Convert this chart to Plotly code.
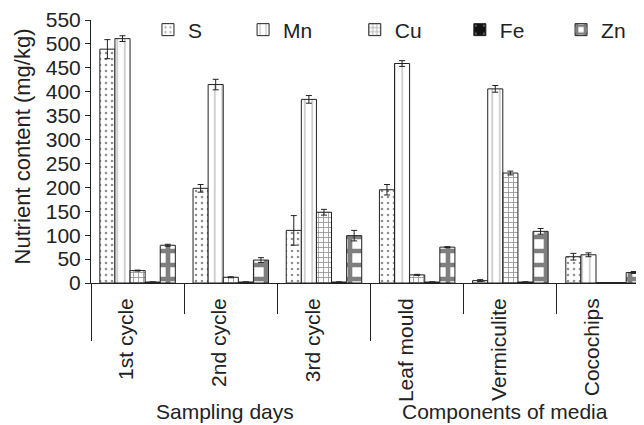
import plotly.graph_objects as go

categories = ["1st cycle", "2nd cycle", "3rd cycle", "Leaf mould", "Vermiculite", "Cocochips"]
group_names = ["Sampling days", "Components of media"]
group_members = [[0, 1, 2], [3, 4, 5]]
y_title = "Nutrient content (mg/kg)"

S = [489, 198, 110, 195, 5, 55]
S_err = [20, 8, 31, 11, 2, 7]
Mn = [511, 415, 384, 459, 406, 59]
Mn_err = [6, 11, 8, 6, 7, 4]
Cu = [26, 12, 148, 17, 230, 1]
Cu_err = [1, 1, 6, 1, 4, 0]
Fe = [2, 2, 2, 2, 2, 1]
Fe_err = [0, 0, 0, 0, 0, 0]
Zn = [79, 48, 99, 75, 108, 22]
Zn_err = [2, 5, 11, 1, 6, 2]
y_ticks = list(range(0, 551, 50))

series = [
    ("S", S, S_err, dict(shape=".", fgcolor="#222", bgcolor="white", size=6, solidity=0.15)),
    ("Mn", Mn, Mn_err, dict(shape="|", fgcolor="#333", bgcolor="white", size=7.5, solidity=0.12)),
    ("Cu", Cu, Cu_err, dict(shape="+", fgcolor="#222", bgcolor="white", size=5, solidity=0.3)),
    ("Fe", Fe, Fe_err, dict(shape=".", fgcolor="white", bgcolor="#111", size=12, solidity=0.04)),
    ("Zn", Zn, Zn_err, dict(shape="+", fgcolor="#000", bgcolor="white", size=14, solidity=0.55)),
]
legend_x = [0.103, 0.275, 0.477, 0.667, 0.850]

FONT = "Liberation Sans, Arial, sans-serif"
idx = list(range(len(categories)))

fig = go.Figure()
for k, (name, vals, errs, pat) in enumerate(series):
    fig.add_trace(go.Bar(
        name=name, x=idx, y=vals,
        legend="legend" if k == 0 else f"legend{k + 1}",
        marker=dict(color="white", pattern=pat, line=dict(color="#222", width=1)),
        error_y=dict(type="data", array=errs, visible=True, color="#222", thickness=1, width=3),
    ))

# invisible carriers so the overlay axes (group dividers, category labels) are drawn
for ax in ["x2", "x3"]:
    fig.add_trace(go.Scatter(x=idx, y=[None] * len(idx), xaxis=ax, yaxis="y",
                             mode="markers", showlegend=False, hoverinfo="skip"))

first_members = [g[0] for g in group_members]
short_b = [i + 0.5 for i in idx[:-1] if (i + 1) not in first_members]
long_b = [g[0] - 0.5 for g in group_members] + [group_members[-1][-1] + 0.5]
xr = [-0.5, 5.434]

legends = {}
for k, lx in enumerate(legend_x):
    key = "legend" if k == 0 else f"legend{k + 1}"
    legends[key] = dict(x=lx, y=0.962, xanchor="left", yanchor="middle",
                        font=dict(size=21), bgcolor="rgba(0,0,0,0)", borderwidth=0)

fig.update_layout(
    width=636, height=417,
    margin=dict(l=83, r=0, t=9, b=142),
    paper_bgcolor="white", plot_bgcolor="white",
    font=dict(family=FONT, size=21, color="#222"),
    barmode="group", bargap=0.19, bargroupgap=0,
    showlegend=True,
    **legends,
    xaxis=dict(range=xr, showline=True, linecolor="#222", linewidth=1,
               tickmode="array", tickvals=short_b, ticks="outside", ticklen=30,
               tickcolor="#222", showticklabels=False, showgrid=False, zeroline=False),
    xaxis2=dict(range=xr, overlaying="x", anchor="y", side="bottom",
                tickmode="array", tickvals=long_b, ticks="outside", ticklen=57,
                tickcolor="#222", showticklabels=False, showgrid=False, zeroline=False,
                showline=False),
    xaxis3=dict(range=xr, overlaying="x", anchor="y", side="bottom",
                tickmode="array", tickvals=[i - 0.12 for i in idx], ticktext=categories,
                tickangle=-90, ticks="", ticklabelstandoff=10,
                showgrid=False, zeroline=False, showline=False,
                tickfont=dict(size=21)),
    yaxis=dict(range=[0, 550], tickmode="array", tickvals=y_ticks,
               showline=True, linecolor="#222", linewidth=1,
               ticks="outside", ticklen=5, tickcolor="#222",
               ticklabeloverflow="allow",
               showgrid=False, zeroline=False, tickfont=dict(size=21)),
)

fig.add_annotation(x=-0.123, y=0.519, xref="paper", yref="paper", text=y_title,
                   textangle=-90, showarrow=False, font=dict(size=22),
                   xanchor="center", yanchor="middle")

for gname, members in zip(group_names, group_members):
    fig.add_annotation(x=sum(members) / len(members) - 0.06, y=-0.49,
                       xref="x", yref="paper", text=gname, showarrow=False,
                       font=dict(size=21), xanchor="center", yanchor="middle")

fig.write_html("out.html")
